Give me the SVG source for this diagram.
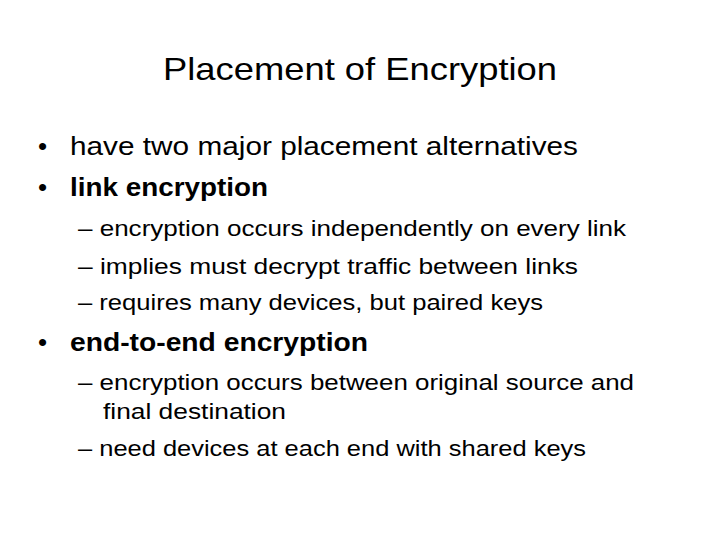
<svg xmlns="http://www.w3.org/2000/svg" width="720" height="540" viewBox="0 0 720 540">
<style>
text{font-family:"Liberation Sans","Open Sans",sans-serif;fill:#000}
.t{font-size:32px}
.b{font-size:26px}
.bb{font-size:26px;font-weight:bold}
.s{font-size:22px}
</style>
<rect width="720" height="540" fill="#fff"/>
<g id="title"><text class="t" x="163" y="80" textLength="394" lengthAdjust="spacingAndGlyphs">Placement of Encryption</text></g>
<g id="b1"><text class="b" x="38" y="155">•</text><text class="b" x="70" y="155" textLength="508" lengthAdjust="spacingAndGlyphs">have two major placement alternatives</text></g>
<g id="b2"><text class="b" x="38" y="196">•</text><text class="bb" x="70" y="196" textLength="198" lengthAdjust="spacingAndGlyphs">link encryption</text>
<text class="s" x="78" y="236" textLength="548" lengthAdjust="spacingAndGlyphs">– encryption occurs independently on every link</text>
<text class="s" x="78" y="274" textLength="500" lengthAdjust="spacingAndGlyphs">– implies must decrypt traffic between links</text>
<text class="s" x="78" y="310" textLength="465" lengthAdjust="spacingAndGlyphs">– requires many devices, but paired keys</text></g>
<g id="b3"><text class="b" x="38" y="351">•</text><text class="bb" x="70" y="351" textLength="298" lengthAdjust="spacingAndGlyphs">end-to-end encryption</text>
<text class="s" x="78" y="390" textLength="556" lengthAdjust="spacingAndGlyphs">– encryption occurs between original source and</text>
<text class="s" x="103" y="419" textLength="183" lengthAdjust="spacingAndGlyphs">final destination</text>
<text class="s" x="78" y="456" textLength="508" lengthAdjust="spacingAndGlyphs">– need devices at each end with shared keys</text></g>
</svg>
